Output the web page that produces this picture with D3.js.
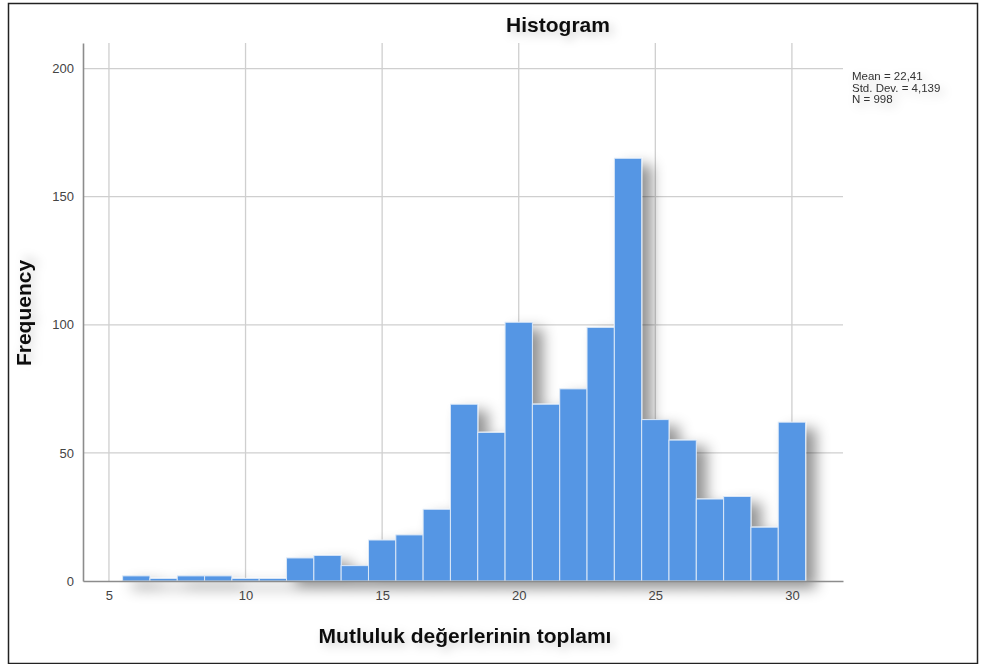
<!DOCTYPE html>
<html>
<head>
<meta charset="utf-8">
<script src="https://cdn.jsdelivr.net/npm/d3@7"></script>
<style>
  html, body { margin: 0; padding: 0; background: #fff; }
  svg { display: block; }
  text { font-family: "Liberation Sans", Arial, sans-serif; }
</style>
</head>
<body>
<script>
// ---- data ----
const categories = [6, 7, 8, 9, 10, 11, 12, 13, 14, 15, 16, 17, 18, 19, 20, 21, 22, 23, 24, 25, 26, 27, 28, 29, 30];
const frequencies = [2, 1, 2, 2, 1, 1, 9, 10, 6, 16, 18, 28, 69, 58, 101, 69, 75, 99, 165, 63, 55, 32, 33, 21, 62];
const xTicks = [5, 10, 15, 20, 25, 30];
const yTicks = [0, 50, 100, 150, 200];
const statsLines = ["Mean = 22,41", "Std. Dev. = 4,139", "N = 998"];
const titleText = "Histogram";
const xLabel = "Mutluluk değerlerinin toplamı";
const yLabel = "Frequency";

// ---- layout ----
const W = 982, H = 664;
const plot = { left: 83, right: 843, top: 43, bottom: 581 };

const svg = d3.select("body").append("svg").attr("width", W).attr("height", H);

const defs = svg.append("defs");
const f = defs.append("filter").attr("id", "shadow")
  .attr("x", "-20%").attr("y", "-20%").attr("width", "160%").attr("height", "160%");
f.append("feDropShadow").attr("dx", 10).attr("dy", 7).attr("stdDeviation", 7)
  .attr("flood-color", "#000").attr("flood-opacity", 0.42);
const ft = defs.append("filter").attr("id", "tshadow")
  .attr("x", "-30%").attr("y", "-50%").attr("width", "160%").attr("height", "200%");
ft.append("feDropShadow").attr("dx", 4).attr("dy", 4).attr("stdDeviation", 5)
  .attr("flood-color", "#000").attr("flood-opacity", 0.18);

// outer frame
svg.append("rect").attr("x", 8.5).attr("y", 3.5).attr("width", 969).attr("height", 660)
  .attr("fill", "#fff").attr("stroke", "#222").attr("stroke-width", 1.5);

const x = d3.scaleLinear().domain([4.05, 31.87]).range([plot.left, plot.right]);
const y = d3.scaleLinear().domain([0, 210]).range([plot.bottom, plot.top]);

// gridlines
const grid = svg.append("g");
grid.selectAll("line.vx").data(xTicks).join("line")
  .attr("x1", d => x(d)).attr("x2", d => x(d))
  .attr("y1", plot.top).attr("y2", plot.bottom)
  .attr("stroke", "#cfcfcf").attr("stroke-width", 1.3);
grid.selectAll("line.hy").data(yTicks.filter(d => d > 0)).join("line")
  .attr("x1", plot.left).attr("x2", plot.right)
  .attr("y1", d => y(d)).attr("y2", d => y(d))
  .attr("stroke", "#cfcfcf").attr("stroke-width", 1.3);

// bars
const bars = svg.append("g").attr("filter", "url(#shadow)");
bars.selectAll("rect").data(categories).join("rect")
  .attr("x", d => x(d - 0.5))
  .attr("width", d => x(d + 0.5) - x(d - 0.5))
  .attr("y", (d, i) => y(frequencies[i]))
  .attr("height", (d, i) => y(0) - y(frequencies[i]))
  .attr("fill", "#5596e4")
  .attr("stroke", "#dbe8f7").attr("stroke-width", 1);

// axes
const xAxis = svg.append("g").attr("transform", `translate(0,${plot.bottom})`)
  .call(d3.axisBottom(x).tickValues(xTicks).tickSize(0).tickPadding(10).tickFormat(d3.format("d")));
xAxis.select(".domain").attr("stroke", "#8c8c8c").attr("stroke-width", 1.6);
xAxis.selectAll("text").attr("font-size", 13).attr("fill", "#444")
  .attr("font-family", "Liberation Sans, Arial, sans-serif");

const yAxis = svg.append("g").attr("transform", `translate(${plot.left},0)`)
  .call(d3.axisLeft(y).tickValues(yTicks).tickSize(0).tickPadding(9).tickFormat(d3.format("d")));
yAxis.select(".domain").attr("stroke", "#8c8c8c").attr("stroke-width", 1.6);
yAxis.selectAll("text").attr("font-size", 13).attr("fill", "#444")
  .attr("font-family", "Liberation Sans, Arial, sans-serif");

// title
svg.append("text").attr("x", 558).attr("y", 32).attr("text-anchor", "middle")
  .attr("font-size", 21).attr("font-weight", "bold").attr("fill", "#111")
  .attr("filter", "url(#tshadow)").text(titleText);

// axis titles
svg.append("text").attr("x", 465).attr("y", 643).attr("text-anchor", "middle")
  .attr("font-size", 21).attr("font-weight", "bold").attr("fill", "#111")
  .attr("filter", "url(#tshadow)").text(xLabel);

svg.append("text").attr("transform", "translate(31,313) rotate(-90)")
  .attr("text-anchor", "middle")
  .attr("font-size", 21).attr("font-weight", "bold").attr("fill", "#111")
  .attr("filter", "url(#tshadow)").text(yLabel);

// stats box
svg.append("g").attr("filter", "url(#tshadow)")
  .selectAll("text").data(statsLines).join("text")
  .attr("x", 852).attr("y", (d, i) => 80 + i * 11.5)
  .attr("font-size", 11.5).attr("fill", "#333").text(d => d);
</script>
</body>
</html>
